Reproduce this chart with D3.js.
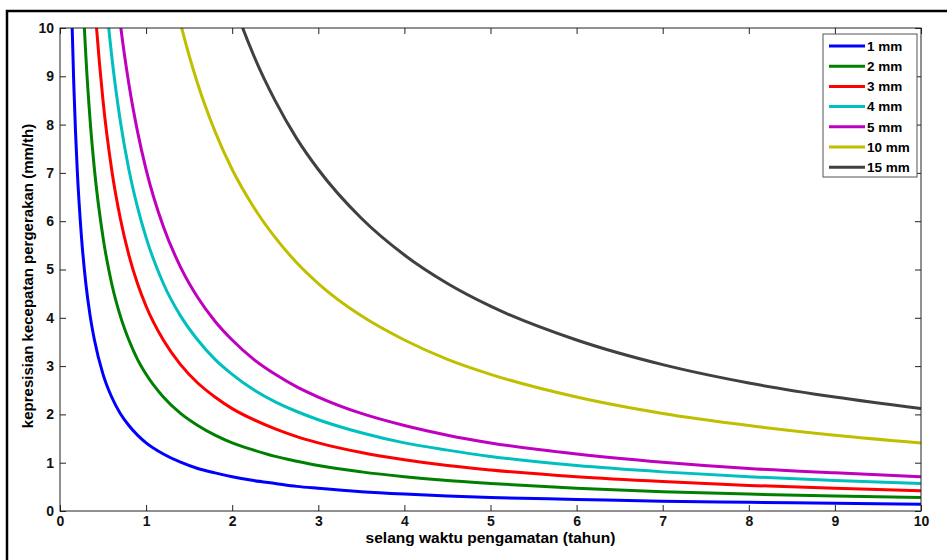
<!DOCTYPE html>
<html>
<head>
<meta charset="utf-8">
<script src="https://cdn.jsdelivr.net/npm/d3@7/dist/d3.min.js"></script>
<style>
  body { margin: 0; background: #fff; }
  svg { display: block; font-family: "Liberation Sans", Arial, sans-serif; }
</style>
</head>
<body>
<svg id="chart"></svg>
<script>
const WIDTH = 947;
const HEIGHT = 560;

// sample times (tahun)
const times = [0.1, 0.12, 0.14, 0.16, 0.18, 0.2, 0.25, 0.3, 0.35, 0.4, 0.5, 0.6, 0.7, 0.8, 0.9,
    1, 1.2, 1.4, 1.6, 1.8, 2, 2.25, 2.5, 2.75, 3, 3.5, 4, 4.5, 5, 6, 7, 8, 9, 10];

// values (mm/th); null = above the plot
const mm1 = [14.14, 11.78, 10.10, 8.84, 7.86, 7.07, 5.66, 4.71, 4.04, 3.54, 2.83, 2.36, 2.02, 1.77, 1.57,
    1.41, 1.18, 1.01, 0.88, 0.79, 0.71, 0.63, 0.57, 0.51, 0.47, 0.40, 0.35, 0.31, 0.28, 0.24, 0.20, 0.18, 0.16, 0.14];
const mm2 = [28.28, 23.57, 20.20, 17.68, 15.71, 14.14, 11.31, 9.43, 8.08, 7.07, 5.66, 4.71, 4.04, 3.54, 3.14,
    2.83, 2.36, 2.02, 1.77, 1.57, 1.41, 1.26, 1.13, 1.03, 0.94, 0.81, 0.71, 0.63, 0.57, 0.47, 0.40, 0.35, 0.31, 0.28];
const mm3 = [null, null, null, 26.5, 23.6, 21.2, 16.97, 14.14, 12.12, 10.61, 8.49, 7.07, 6.06, 5.30, 4.71,
    4.24, 3.54, 3.03, 2.65, 2.36, 2.12, 1.89, 1.70, 1.54, 1.41, 1.21, 1.06, 0.94, 0.85, 0.71, 0.61, 0.53, 0.47, 0.42];
const mm4 = [null, null, null, null, null, 28.28, 22.63, 18.86, 16.16, 14.14, 11.31, 9.43, 8.08, 7.07, 6.29,
    5.66, 4.71, 4.04, 3.54, 3.14, 2.83, 2.51, 2.26, 2.06, 1.89, 1.62, 1.41, 1.26, 1.13, 0.94, 0.81, 0.71, 0.63, 0.57];
const mm5 = [null, null, null, null, null, null, 28.28, 23.57, 20.20, 17.68, 14.14, 11.79, 10.10, 8.84, 7.86,
    7.07, 5.89, 5.05, 4.42, 3.93, 3.54, 3.14, 2.83, 2.57, 2.36, 2.02, 1.77, 1.57, 1.41, 1.18, 1.01, 0.88, 0.79, 0.71];
const mm10 = [null, null, null, null, null, null, null, null, null, null, 28.28, 23.57, 20.20, 17.68, 15.71,
    14.14, 11.79, 10.10, 8.84, 7.86, 7.07, 6.29, 5.66, 5.14, 4.71, 4.04, 3.54, 3.14, 2.83, 2.36, 2.02, 1.77, 1.57, 1.41];
const mm15 = [null, null, null, null, null, null, null, null, null, null, null, null, null, 26.5, 23.57,
    21.21, 17.68, 15.15, 13.26, 11.79, 10.61, 9.43, 8.49, 7.71, 7.07, 6.06, 5.30, 4.71, 4.24, 3.54, 3.03, 2.65, 2.36, 2.12];

const seriesNames = ['1 mm', '2 mm', '3 mm', '4 mm', '5 mm', '10 mm', '15 mm'];
const seriesValues = [mm1, mm2, mm3, mm4, mm5, mm10, mm15];
const seriesColors = ['#0000ff', '#008000', '#ff0000', '#00bfbf', '#bf00bf', '#bfbf00', '#404040'];

const xTicks = [0, 1, 2, 3, 4, 5, 6, 7, 8, 9, 10];
const yTicks = [0, 1, 2, 3, 4, 5, 6, 7, 8, 9, 10];

const margin = { left: 60, right: 26, top: 28, bottom: 49 };
const plotW = WIDTH - margin.left - margin.right;
const plotH = HEIGHT - margin.top - margin.bottom;

const svg = d3.select('#chart')
    .attr('width', WIDTH)
    .attr('height', HEIGHT);

// outer figure frame (left and top edges only)
svg.append('path')
    .attr('d', `M7,${HEIGHT} V11 H${WIDTH}`)
    .attr('fill', 'none')
    .attr('stroke', '#000')
    .attr('stroke-width', 2.5);

const x = d3.scaleLinear().domain([0, 10]).range([0, plotW]);
const y = d3.scaleLinear().domain([0, 10]).range([plotH, 0]);

const g = svg.append('g')
    .attr('transform', `translate(${margin.left},${margin.top})`);

g.append('defs').append('clipPath')
    .attr('id', 'plot-clip')
    .append('rect')
    .attr('width', plotW)
    .attr('height', plotH);

const line = d3.line()
    .defined(d => d.v != null)
    .x(d => x(d.t))
    .y(d => y(d.v))
    .curve(d3.curveMonotoneX);

g.append('g')
    .attr('clip-path', 'url(#plot-clip)')
    .selectAll('path')
    .data(seriesValues)
    .join('path')
    .attr('d', vals => line(vals.map((v, i) => ({ t: times[i], v }))))
    .attr('fill', 'none')
    .attr('stroke', (d, i) => seriesColors[i])
    .attr('stroke-width', 3)
    .attr('stroke-linejoin', 'round');

// axes, MATLAB style: ticks inside on all four sides
const tickLen = 6;
const styleAxis = sel => {
    sel.select('.domain').remove();
    sel.selectAll('line').attr('stroke', '#222');
    sel.selectAll('text')
        .attr('fill', '#111')
        .style('font-size', '14px')
        .style('font-weight', 'bold');
};

g.append('g')
    .attr('transform', `translate(0,${plotH})`)
    .call(d3.axisBottom(x).tickValues(xTicks).tickFormat(d3.format('d'))
        .tickSizeInner(-tickLen).tickPadding(5))
    .call(styleAxis);

g.append('g')
    .call(d3.axisTop(x).tickValues(xTicks).tickFormat('').tickSizeInner(-tickLen))
    .call(styleAxis);

g.append('g')
    .call(d3.axisLeft(y).tickValues(yTicks).tickFormat(d3.format('d'))
        .tickSizeInner(-tickLen).tickPadding(6))
    .call(styleAxis);

g.append('g')
    .attr('transform', `translate(${plotW},0)`)
    .call(d3.axisRight(y).tickValues(yTicks).tickFormat('').tickSizeInner(-tickLen))
    .call(styleAxis);

g.append('rect')
    .attr('width', plotW)
    .attr('height', plotH)
    .attr('fill', 'none')
    .attr('stroke', '#222')
    .attr('stroke-width', 1);

// axis titles
svg.append('text')
    .attr('x', margin.left + plotW / 2)
    .attr('y', 543)
    .attr('text-anchor', 'middle')
    .style('font-size', '15.5px')
    .style('font-weight', 'bold')
    .text('selang waktu pengamatan (tahun)');

svg.append('text')
    .attr('transform', 'translate(33,276) rotate(-90)')
    .attr('text-anchor', 'middle')
    .style('font-size', '15px')
    .style('font-weight', 'bold')
    .text('kepresisian kecepatan pergerakan (mm/th)');

// legend
const legend = svg.append('g').attr('transform', 'translate(823,34)');
legend.append('rect')
    .attr('width', 94)
    .attr('height', 143)
    .attr('fill', '#fff')
    .attr('stroke', '#555')
    .attr('stroke-width', 1);

const items = legend.selectAll('.item')
    .data(seriesNames)
    .join('g')
    .attr('class', 'item')
    .attr('transform', (d, i) => `translate(0,${12 + i * 20.2})`);

items.append('line')
    .attr('x1', 6)
    .attr('x2', 42)
    .attr('stroke', (d, i) => seriesColors[i])
    .attr('stroke-width', 3);

items.append('text')
    .attr('x', 44)
    .attr('dy', '0.35em')
    .style('font-size', '13.5px')
    .style('font-weight', 'bold')
    .text(d => d);
</script>
</body>
</html>
